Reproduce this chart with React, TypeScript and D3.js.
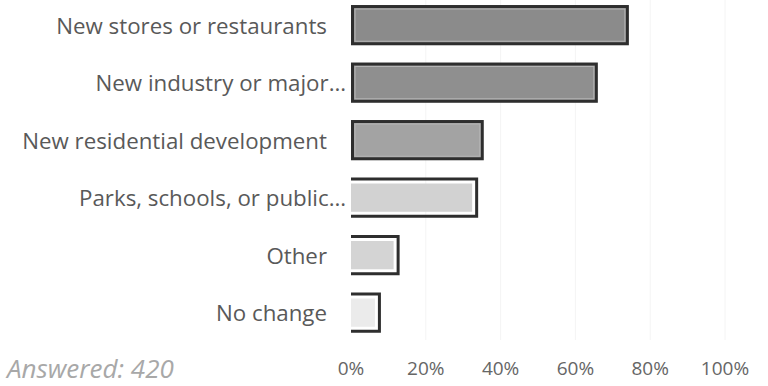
import React from "react";
import * as d3 from "d3";

const categories = [
  "New stores or restaurants",
  "New industry or major…",
  "New residential development",
  "Parks, schools, or public…",
  "Other",
  "No change",
];
const values = [0.743, 0.66, 0.355, 0.34, 0.13, 0.08];
const fills = ["#8b8b8b", "#8f8f8f", "#a3a3a3", "#d2d2d2", "#d4d4d4", "#ebebeb"];
const openLeft = [false, false, false, true, true, true];
const tickValues = [0, 0.2, 0.4, 0.6, 0.8, 1.0];
const answeredText = "Answered: 420";

const W = 768;
const H = 386;

export default function App() {
  const x = d3.scaleLinear().domain([0, 1]).range([351, 725]);
  const y = d3
    .scaleBand<number>()
    .domain(d3.range(categories.length))
    .range([-3.6, 341.4])
    .paddingInner(0.3)
    .paddingOuter(0.15);
  const fmt = d3.format(".0%");
  const font = "'Open Sans', 'DejaVu Sans', sans-serif";

  return (
    <svg
      width={W}
      height={H}
      style={{ position: "absolute", left: 0, top: 0, background: "#fff" }}
    >
      {tickValues.slice(1).map((t, i) => (
        <line
          key={"g" + i}
          x1={x(t)}
          x2={x(t)}
          y1={0}
          y2={340}
          stroke="#f4f4f4"
          strokeWidth={1}
        />
      ))}
      {categories.map((c, i) => {
        const y0 = y(i)!;
        const bh = y.bandwidth();
        const x0 = x(0);
        const x1 = x(values[i]);
        const truncated = c.endsWith("…");
        return (
          <g key={c}>
            <text
              x={truncated ? 346 : 327}
              y={y0 + bh / 2}
              textAnchor="end"
              dominantBaseline="central"
              fontFamily={font}
              fontSize={22.3}
              fontWeight={500}
              fill="#595959"
            >
              {c}
            </text>
            {openLeft[i] ? (
              <g>
                <rect
                  x={x0}
                  y={y0 + 6}
                  width={x1 - x0 - 6}
                  height={bh - 12}
                  fill={fills[i]}
                />
                <path
                  d={`M${x0},${y0 + 1.5}H${x1 - 1.5}V${y0 + bh - 1.5}H${x0}`}
                  fill="none"
                  stroke="#2e2e2e"
                  strokeWidth={3}
                />
              </g>
            ) : (
              <g>
                <rect
                  x={x0 + 1.5}
                  y={y0 + 1.5}
                  width={x1 - x0 - 3}
                  height={bh - 3}
                  fill={fills[i]}
                  stroke="#2e2e2e"
                  strokeWidth={3}
                />
                <rect
                  x={x0 + 4}
                  y={y0 + 4}
                  width={x1 - x0 - 8}
                  height={bh - 8}
                  fill="none"
                  stroke="#b5b5b5"
                  strokeWidth={1}
                />
              </g>
            )}
          </g>
        );
      })}
      {tickValues.map((t, i) => (
        <text
          key={"t" + i}
          x={x(t)}
          y={368}
          textAnchor="middle"
          dominantBaseline="central"
          fontFamily={font}
          fontSize={19}
          fontWeight={500}
          fill="#666"
        >
          {fmt(t)}
        </text>
      ))}
      <text
        x={7}
        y={368}
        dominantBaseline="central"
        fontFamily={font}
        fontStyle="italic"
        fontSize={26}
        fill="#a8a8a8"
      >
        {answeredText}
      </text>
    </svg>
  );
}
